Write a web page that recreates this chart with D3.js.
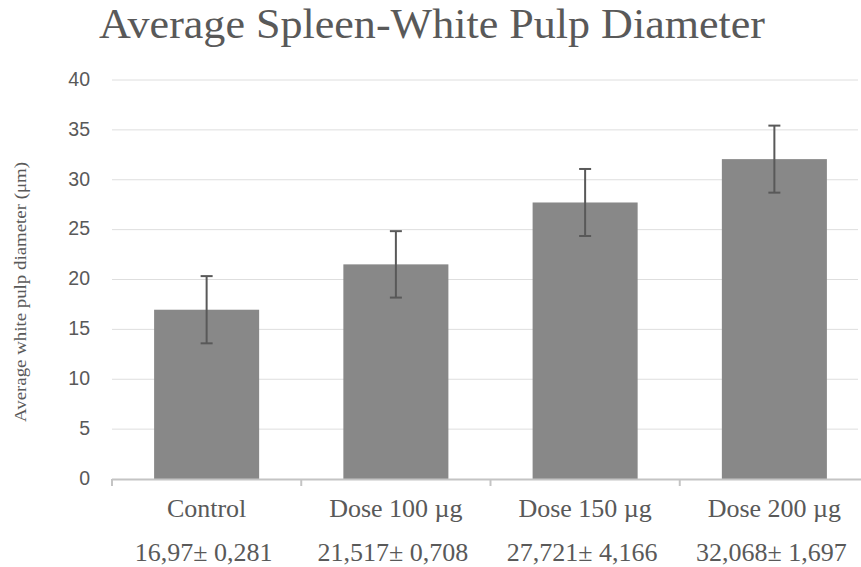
<!DOCTYPE html>
<html>
<head>
<meta charset="utf-8">
<script src="https://cdn.jsdelivr.net/npm/d3@7"></script>
<style>
  body { margin: 0; background: #fff; }
  svg { display: block; }
</style>
</head>
<body>
<div id="chart"></div>
<script>
// data
var categories = ["Control", "Dose 100 µg", "Dose 150 µg", "Dose 200 µg"];
var means = [16.97, 21.517, 27.721, 32.068];
var errors = [3.37, 3.33, 3.36, 3.36];
var valueLabels = ["16,97± 0,281", "21,517± 0,708", "27,721± 4,166", "32,068± 1,697"];
var yTicks = [0, 5, 10, 15, 20, 25, 30, 35, 40];

var width = 861, height = 567;
var textColor = "#595959";
var serif = "'Liberation Serif', 'Times New Roman', serif";
var sans = "'Liberation Sans', Arial, sans-serif";

var svg = d3.select("#chart").append("svg")
    .attr("width", width)
    .attr("height", height);

var x = d3.scaleBand()
    .domain(categories)
    .range([112, 869])
    .paddingInner(0.445)
    .paddingOuter(0.2225);

var y = d3.scaleLinear()
    .domain([0, 40])
    .range([479, 80]);

// title
svg.append("text")
    .attr("x", 432)
    .attr("y", 38)
    .attr("text-anchor", "middle")
    .attr("font-family", serif)
    .attr("font-size", 42)
    .attr("fill", textColor)
    .attr("textLength", 666)
    .attr("lengthAdjust", "spacingAndGlyphs")
    .text("Average Spleen-White Pulp Diameter");

// gridlines
svg.append("g")
  .selectAll("line")
  .data(yTicks.filter(d => d > 0))
  .join("line")
    .attr("x1", 112)
    .attr("x2", 858)
    .attr("y1", d => y(d))
    .attr("y2", d => y(d))
    .attr("stroke", "#dedede")
    .attr("stroke-width", 1);

// y tick labels
svg.append("g")
  .selectAll("text")
  .data(yTicks)
  .join("text")
    .attr("x", 90)
    .attr("y", d => y(d) - 1)
    .attr("dy", "0.35em")
    .attr("text-anchor", "end")
    .attr("font-family", sans)
    .attr("font-size", 19.5)
    .attr("fill", textColor)
    .text(d => d);

// y axis title
svg.append("text")
    .attr("transform", "translate(26,292) rotate(-90)")
    .attr("text-anchor", "middle")
    .attr("font-family", serif)
    .attr("font-size", 16)
    .attr("fill", textColor)
    .attr("textLength", 260)
    .attr("lengthAdjust", "spacingAndGlyphs")
    .text("Average  white pulp diameter  (μm)");

// bars
svg.append("g")
  .selectAll("rect")
  .data(means)
  .join("rect")
    .attr("x", (d, i) => x(categories[i]))
    .attr("y", d => y(d))
    .attr("width", x.bandwidth())
    .attr("height", d => y(0) - y(d))
    .attr("fill", "#888888");

// x axis line + tick marks at category boundaries
var gap = (x.step() - x.bandwidth()) / 2;
svg.append("line")
    .attr("x1", 112)
    .attr("x2", 861)
    .attr("y1", y(0) + 0.5)
    .attr("y2", y(0) + 0.5)
    .attr("stroke", "#c4c4c4")
    .attr("stroke-width", 2);

svg.append("g")
  .selectAll("line")
  .data(categories)
  .join("line")
    .attr("x1", d => x(d) - gap)
    .attr("x2", d => x(d) - gap)
    .attr("y1", y(0))
    .attr("y2", y(0) + 7)
    .attr("stroke", "#c4c4c4")
    .attr("stroke-width", 2);

// error bars
var err = svg.append("g")
    .attr("stroke", "#595959")
    .attr("stroke-width", 2);

means.forEach(function(m, i) {
  var cx = x(categories[i]) + x.bandwidth() / 2;
  err.append("line")
      .attr("x1", cx).attr("x2", cx)
      .attr("y1", y(m + errors[i])).attr("y2", y(m - errors[i]));
  err.append("line")
      .attr("x1", cx - 6).attr("x2", cx + 6)
      .attr("y1", y(m + errors[i])).attr("y2", y(m + errors[i]));
  err.append("line")
      .attr("x1", cx - 6).attr("x2", cx + 6)
      .attr("y1", y(m - errors[i])).attr("y2", y(m - errors[i]));
});

// category labels
svg.append("g")
  .selectAll("text")
  .data(categories)
  .join("text")
    .attr("x", d => x(d) + x.bandwidth() / 2)
    .attr("y", 517)
    .attr("text-anchor", "middle")
    .attr("font-family", serif)
    .attr("font-size", 26)
    .attr("fill", textColor)
    .text(d => d);

// mean ± value labels
svg.append("g")
  .selectAll("text")
  .data(valueLabels)
  .join("text")
    .attr("x", (d, i) => x(categories[i]) + x.bandwidth() / 2 - 3)
    .attr("y", 561)
    .attr("text-anchor", "middle")
    .attr("font-family", serif)
    .attr("font-size", 26)
    .attr("fill", textColor)
    .text(d => d);
</script>
</body>
</html>
